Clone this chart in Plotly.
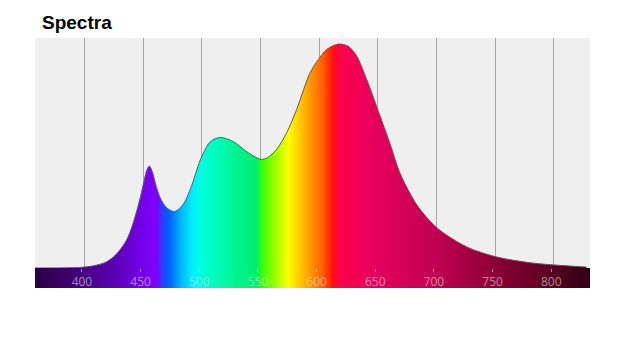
import plotly.graph_objects as go

# ---- data ----
wavelength_nm = [360, 390, 400, 410, 420, 427, 433, 438.5, 443, 447, 450, 453, 455.5,
                 457.5, 460, 463, 467, 472, 478, 482, 487, 493, 500.9, 509.4, 517.9,
                 529.2, 540.6, 552.5, 558, 566, 574.5, 583, 590, 594.4, 601.5, 608.6,
                 618.5, 627, 634.2, 642.7, 652.6, 662.6, 671, 685.5, 702.6, 728,
                 753.6, 784, 830]
intensity = [0.0, 0.001, 0.003, 0.01, 0.025, 0.05, 0.085, 0.13, 0.19, 0.26, 0.32,
             0.39, 0.44, 0.455, 0.43, 0.37, 0.31, 0.27, 0.252, 0.26, 0.29, 0.36,
             0.482, 0.564, 0.583, 0.564, 0.519, 0.485, 0.492, 0.53, 0.604, 0.708,
             0.812, 0.872, 0.931, 0.976, 1.0, 0.99, 0.946, 0.842, 0.70, 0.555, 0.424,
             0.281, 0.179, 0.094, 0.049, 0.022, 0.004]

tick_values = [400, 450, 500, 550, 600, 650, 700, 750, 800]
tick_labels = ["400", "450", "500", "550", "600", "650", "700", "750", "800"]

wl_min, wl_max = 360, 833
grid_shift_nm = 2.2  # reference grid lines sit a few pixels right of the tick marks

color_stop_nm = [360, 400, 430, 450, 464, 468, 475, 484, 494, 502, 530, 549, 554,
                 565, 576, 593, 605, 614, 620, 650, 700, 750, 800, 833]
color_stop_rgb = ["#2a0042", "#46007e", "#5e00b8", "#7200e8", "#8000ff", "#2a3cff",
                  "#0064ff", "#00b4ff", "#00eeff", "#00ffdc", "#00f592", "#00ee6e",
                  "#3cff00", "#a0ff00", "#ffff00", "#ffa000", "#ff6000", "#ff1010",
                  "#ff004e", "#e6005e", "#c20052", "#8e0036", "#5a0020", "#300012"]

strip_wavelengths = list(range(wl_min, wl_max + 1))

colorscale = [[(w - wl_min) / (wl_max - wl_min), c] for w, c in zip(color_stop_nm, color_stop_rgb)]

fig = go.Figure()

# colour strip (bottom subplot)
fig.add_trace(go.Heatmap(
    x=strip_wavelengths, y=[0.5], z=[strip_wavelengths],
    zmin=wl_min, zmax=wl_max, colorscale=colorscale, showscale=False,
    hoverinfo="skip", xaxis="x", yaxis="y"))

# spectrum
fig.add_trace(go.Scatter(
    x=wavelength_nm, y=intensity, mode="lines",
    line=dict(color="#5a5a5a", width=1, shape="spline", smoothing=0.8),
    fill="tozeroy",
    fillgradient=dict(type="horizontal", colorscale=colorscale, start=wl_min, stop=wl_max),
    xaxis="x2", yaxis="y2", hoverinfo="skip", showlegend=False))

# empty trace so the grid-only overlay axis is instantiated
fig.add_trace(go.Scatter(x=[], y=[], xaxis="x3", yaxis="y2", showlegend=False, hoverinfo="skip"))

label_color = "rgba(228,228,228,0.6)"

fig.update_layout(
    width=620, height=340,
    margin=dict(l=35, r=30, t=38, b=52),
    paper_bgcolor="white", plot_bgcolor="#efefef",
    showlegend=False,
    title=dict(text="Spectra", x=42 / 620, xref="container", xanchor="left",
               y=1 - 22 / 340, yref="container", yanchor="middle",
               font=dict(family="Liberation Sans", size=19, color="black", weight="bold")),
    xaxis=dict(domain=[0, 1], range=[wl_min, wl_max], anchor="y",
               showgrid=False, zeroline=False, showticklabels=False, ticks=""),
    yaxis=dict(domain=[0, 0.08], range=[0, 1], anchor="x",
               showgrid=False, zeroline=False, showticklabels=False, ticks=""),
    xaxis2=dict(domain=[0, 1], range=[wl_min, wl_max], anchor="y2",
                showgrid=False, zeroline=False,
                tickvals=tick_values, ticktext=tick_labels,
                ticks="outside", ticklen=3, tickcolor=label_color, tickwidth=1,
                tickfont=dict(family="Open Sans", size=12, color=label_color),
                showline=False),
    xaxis3=dict(overlaying="x2", anchor="y2",
                range=[wl_min - grid_shift_nm, wl_max - grid_shift_nm],
                tickvals=tick_values, showticklabels=False, ticks="",
                showgrid=True, gridcolor="#a6a6a6", gridwidth=1, zeroline=False,
                showline=False),
    yaxis2=dict(domain=[0.08, 1], range=[0, 1.027], anchor="x2",
                showgrid=False, zeroline=False, showticklabels=False, ticks=""),
)

fig.write_html("out.html")
